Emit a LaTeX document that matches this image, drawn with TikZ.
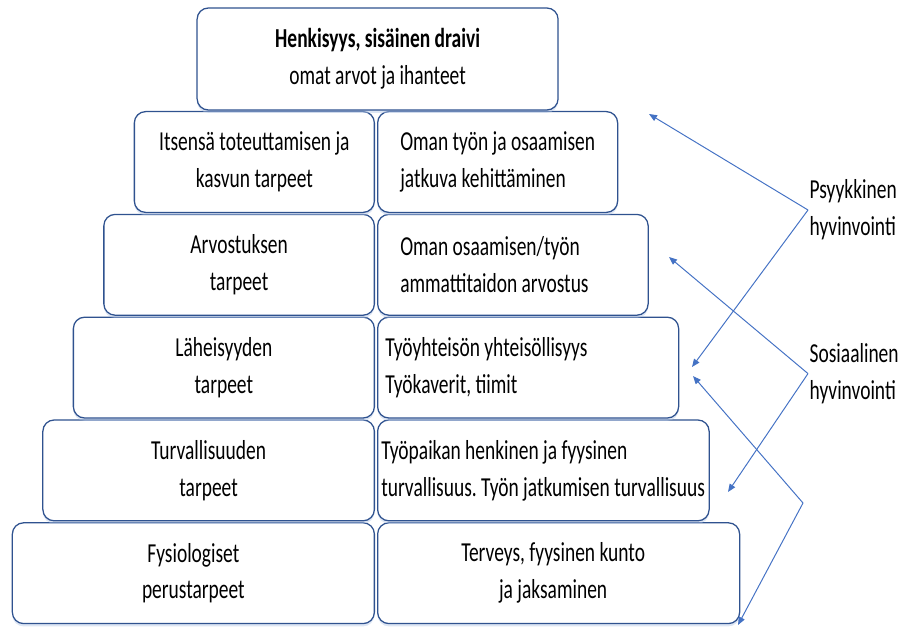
\documentclass[tikz,border=0pt]{standalone}
\usepackage{fontspec}
\setmainfont{Carlito}[FakeStretch=0.71]
\usepackage{tikz}
\usetikzlibrary{arrows.meta,positioning,shadows}
\definecolor{Frame}{HTML}{2F528F}
\definecolor{Arrow}{HTML}{4472C4}
\frenchspacing

\begin{document}
\begin{tikzpicture}[
    font=\fontsize{19.5pt}{26.3pt}\selectfont,
    box/.style={draw=Frame,line width=0.9pt,fill=white,rounded corners=8pt,
      minimum height=2.52cm,inner sep=0pt,align=center,
      drop shadow={shadow xshift=0pt,shadow yshift=-0.07cm,fill=Arrow!40,opacity=0.45}},
    txt/.style={inner sep=0pt,align=left},
    lbl/.style={inner sep=1pt,align=left,anchor=west},
    arr/.style={-{Triangle[length=2mm,width=1.6mm]},line width=0.7pt,draw=Arrow}
  ]
    \useasboundingbox (0,0) rectangle (22.65,15.75);

    % pyramid, bottom row first so the shadows fall on the row below
    \node[box,minimum width=9.05cm,anchor=east] (l5) at (9.375,1.42)
      {Fysiologiset\\perustarpeet};
    \node[box,minimum width=9.05cm,anchor=west] (r5) at (9.425,1.42) {};
    \node[txt,align=center,right=2.1cm of r5.west] (rt5)
      {Terveys, fyysinen kunto\\ja jaksaminen};

    \node[box,minimum width=8.2875cm,anchor=east] (l4) at (9.375,3.99)
      {Turvallisuuden\\tarpeet};
    \node[box,minimum width=8.2875cm,anchor=west] (r4) at (9.425,3.99) {};
    \node[txt,right=0.1cm of r4.west] (rt4)
      {Työpaikan henkinen ja fyysinen\\turvallisuus. Työn jatkumisen turvallisuus};

    \node[box,minimum width=7.525cm,anchor=east] (l3) at (9.375,6.56)
      {Läheisyyden\\tarpeet};
    \node[box,minimum width=7.525cm,anchor=west] (r3) at (9.425,6.56) {};
    \node[txt,right=0.2cm of r3.west] (rt3)
      {Työyhteisön yhteisöllisyys\\Työkaverit, tiimit};

    \node[box,minimum width=6.7625cm,anchor=east] (l2) at (9.375,9.13)
      {Arvostuksen\\tarpeet};
    \node[box,minimum width=6.7625cm,anchor=west] (r2) at (9.425,9.13) {};
    \node[txt,right=0.575cm of r2.west] (rt2)
      {Oman osaamisen/työn\\ammattitaidon arvostus};

    \node[box,minimum width=6cm,anchor=east] (l1) at (9.375,11.7)
      {Itsensä toteuttamisen ja\\kasvun tarpeet};
    \node[box,minimum width=6cm,anchor=west] (r1) at (9.425,11.7) {};
    \node[txt,right=0.575cm of r1.west] (rt1)
      {Oman työn ja osaamisen\\jatkuva kehittäminen};

    \node[box,minimum width=9.025cm,minimum height=2.55cm] (top) at (9.44,14.275)
      {\bfseries Henkisyys, sisäinen draivi\\omat arvot ja ihanteet};

    % wellbeing labels
    \node[lbl] (psy) at (20.2,10.5) {Psyykkinen\\hyvinvointi};
    \node[lbl] (sos) at (20.2,6.41) {Sosiaalinen\\hyvinvointi};
    \coordinate (low) at (20.075,3.175);

    \coordinate (psyA) at (16.225,12.9);
    \coordinate (psyB) at (17.3,6.575);
    \coordinate (sosA) at (16.725,9.325);
    \coordinate (sosB) at (18.2,3.45);
    \coordinate (lowA) at (17.325,6.35);
    \coordinate (lowB) at (18.45,0.125);

    \draw[arr] (psy.west) -- (psyA);
    \draw[arr] (psy.west) -- (psyB);
    \draw[arr] (sos.west) -- (sosA);
    \draw[arr] (sos.west) -- (sosB);
    \draw[arr] (low) -- (lowA);
    \draw[arr] (low) -- (lowB);
  \end{tikzpicture}
\end{document}
